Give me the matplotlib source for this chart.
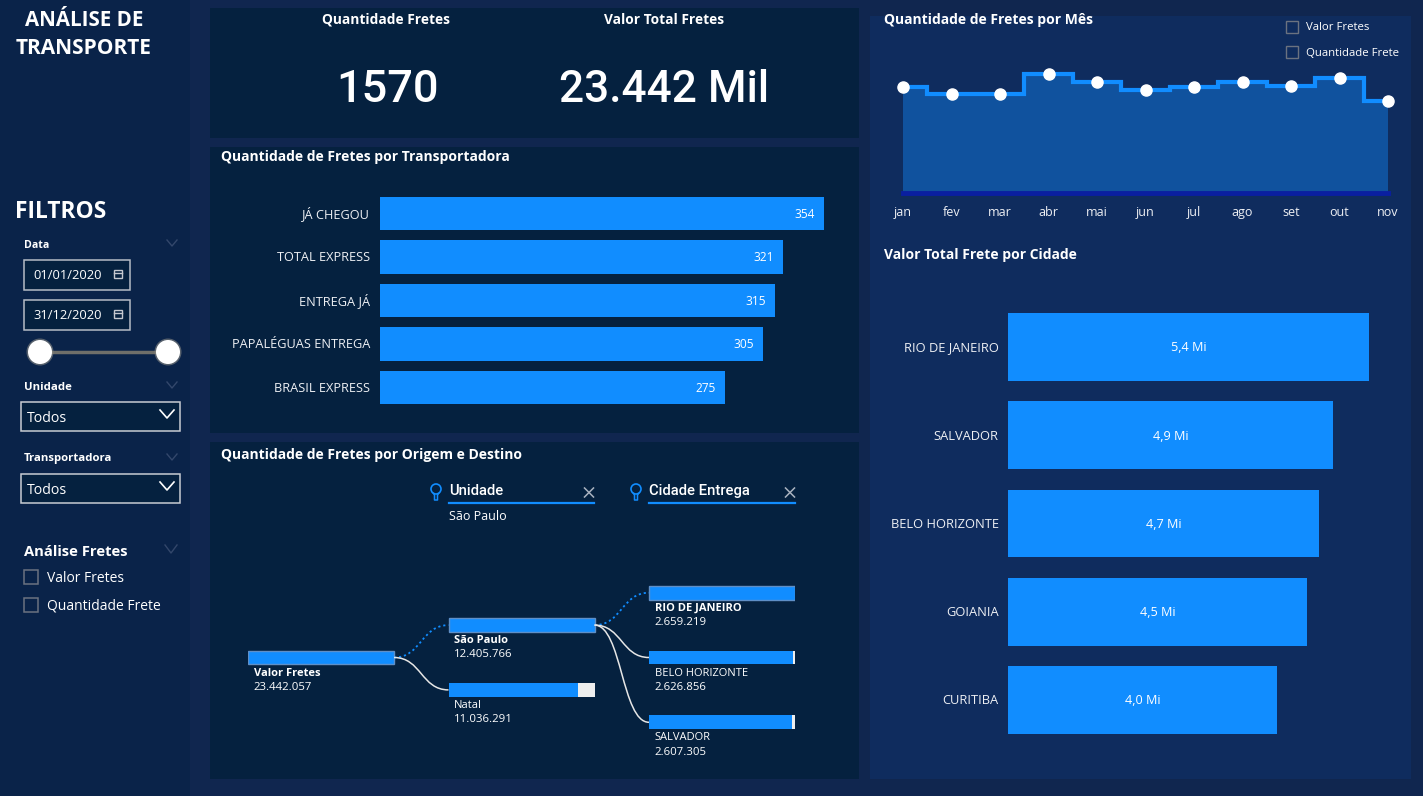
import matplotlib
matplotlib.use('Agg')
import matplotlib.pyplot as plt
from matplotlib.patches import Rectangle, Circle, PathPatch
from matplotlib.path import Path

W, H = 1423, 796

# dados
transportadoras = ['JÁ CHEGOU', 'TOTAL EXPRESS', 'ENTREGA JÁ', 'PAPALÉGUAS ENTREGA', 'BRASIL EXPRESS']
qtd_fretes = [354, 321, 315, 305, 275]

cidades = ['RIO DE JANEIRO', 'SALVADOR', 'BELO HORIZONTE', 'GOIANIA', 'CURITIBA']
valor_cidades = [5.40, 4.86, 4.65, 4.48, 4.03]

meses = ['jan', 'fev', 'mar', 'abr', 'mai', 'jun', 'jul', 'ago', 'set', 'out', 'nov']
qtd_mes = [143, 133, 133, 161, 149, 139, 143, 149, 144, 155, 124]

arvore_nomes = ['Valor Fretes', 'São Paulo', 'Natal', 'RIO DE JANEIRO', 'BELO HORIZONTE', 'SALVADOR']
arvore_valores = [23442057, 12405766, 11036291, 2659219, 2626856, 2607305]
arvore_nivel = [0, 1, 1, 2, 2, 2]
arvore_linha = [0, -1, 1, -2, 0, 2]
arvore_pai = [None, 0, 0, 1, 1, 1]
arvore_destaque = [True, True, False, True, False, False]

BG = '#10264f'
SIDE = '#0a2349'
DARK = '#05213f'
RIGHT = '#0f2c5e'
BLUE = '#118dff'
GRAY = '#6b7280'
BODY = 'Open Sans'
BIG = 'Roboto'

fig = plt.figure(figsize=(W / 100, H / 100), dpi=100, facecolor=BG)


def box_axes(x0, y0, x1, y1):
    # eixos posicionados em pixels da tela
    a = fig.add_axes([x0 / W, 1 - y1 / H, (x1 - x0) / W, (y1 - y0) / H])
    a.patch.set_alpha(0)
    a.set_axis_off()
    return a


ax = box_axes(0, 0, W, H)
ax.set_xlim(0, W)
ax.set_ylim(H, 0)


def txt(x, y, s, size=9, weight='normal', ha='left', color='white', family=BODY):
    ax.text(x, y + 1, s, fontsize=size, fontweight=weight, ha=ha, va='center', color=color, family=family)


def rect(x0, y0, x1, y1, fc, ec='none', lw=0):
    ax.add_patch(Rectangle((x0, y0), x1 - x0, y1 - y0, fc=fc, ec=ec, lw=lw))


def chevron(x, y, w, h, color, lw=1.0):
    ax.plot([x - w, x, x + w], [y - h, y + h, y - h], color=color, lw=lw)


# fundos
rect(0, 0, 190, H, SIDE)
rect(210, 8, 859, 138, DARK)
rect(210, 147, 859, 433, DARK)
rect(210, 442, 859, 779, DARK)
rect(870, 16, 1411, 779, RIGHT)

# barra lateral
txt(84, 19, 'ANÁLISE DE', 14.8, 'bold', 'center')
txt(84, 47, 'TRANSPORTE', 15, 'bold', 'center')
txt(15, 211, 'FILTROS', 16.4, 'bold')

txt(24, 244, 'Data', 7.6, 'bold')
chevron(172, 243, 5, 3, '#33476b')
for y0, data in [(260, '01/01/2020'), (300, '31/12/2020')]:
    rect(24, y0, 130, y0 + 29.5, DARK, '#b6bcc6', 1.1)
    txt(33, y0 + 14.5, data, 9.3)
    rect(114, y0 + 10, 122, y0 + 18, 'none', '#c5c9d0', 1.0)
    ax.plot([114, 122], [y0 + 12.5, y0 + 12.5], color='#c5c9d0', lw=1.0)
ax.plot([40, 168], [352, 352], color='#6f6f6a', lw=2.5, zorder=2)
for cx in [40, 168]:
    ax.add_patch(Circle((cx, 352), 13.5, fc='#8a8a85', ec='none', alpha=0.6, zorder=3))
    ax.add_patch(Circle((cx, 352), 12, fc='white', ec='none', zorder=4))

for y0, nome in [(386, 'Unidade'), (458, 'Transportadora')]:
    txt(24, y0, nome, 8.2, 'bold')
    chevron(172, y0 - 1, 5, 3, '#33476b')
    rect(20.5, y0 + 16, 180, y0 + 44.5, DARK, '#c8ccd3', 1.1)
    txt(27, y0 + 31.5, 'Todos', 10.2)
    chevron(167, y0 + 28, 7, 4, 'white', 1.2)

txt(24, 551, 'Análise Fretes', 10.6, 'bold')
chevron(171, 549, 6, 4, '#33476b')
for y0, nome in [(577, 'Valor Fretes'), (605, 'Quantidade Frete')]:
    rect(24, y0 - 7, 38, y0 + 7, 'none', GRAY, 1.1)
    txt(47, y0, nome, 10)

# cartões
txt(386, 19, 'Quantidade Fretes', 9.95, 'bold', 'center')
txt(664, 19, 'Valor Total Fretes', 9.95, 'bold', 'center')
txt(387, 89, '1570', 32.5, 'medium', 'center', family=BIG)
txt(664, 89, '23.442 Mil', 31.8, 'medium', 'center', family=BIG)

# barras por transportadora
txt(221, 156, 'Quantidade de Fretes por Transportadora', 10, 'bold')
ax1 = box_axes(380, 191.75, 859, 409.25)
ax1.barh(range(len(qtd_fretes)), qtd_fretes, height=0.78, color=BLUE)
ax1.set_xlim(0, 479 / 1.2542)
ax1.set_ylim(len(qtd_fretes) - 0.5, -0.5)
for i, v in enumerate(qtd_fretes):
    # baseline para os acentos não deslocarem o rótulo
    ax1.text(v - 7, i + 0.1, str(v), color='white', fontsize=8.6, ha='right', va='baseline', family=BODY)
    ax1.text(-8, i + 0.1, transportadoras[i], color='#eef0f4', fontsize=9.15, ha='right', va='baseline',
             family=BODY, clip_on=False)

# árvore de decomposição
txt(221, 454, 'Quantidade de Fretes por Origem e Destino', 10, 'bold')
for x0, x1, nome, sub in [(449, 594, 'Unidade', 'São Paulo'), (649, 795, 'Cidade Entrega', None)]:
    txt(x0, 490, nome, 10.6, 'medium', family=BIG)
    ax.plot([x0, x1], [503, 503], color=BLUE, lw=1.6)
    ax.add_patch(Circle((x0 - 13, 489), 5, fc='none', ec=BLUE, lw=1.2))
    ax.plot([x0 - 15.5, x0 - 14.5, x0 - 14.5, x0 - 11.5, x0 - 11.5, x0 - 10.5],
            [493.5, 495, 500, 500, 495, 493.5], color=BLUE, lw=1.1)
    xc = x1 - 5
    ax.plot([xc - 4.5, xc + 4.5], [488, 497], color='#aab2bf', lw=1.1)
    ax.plot([xc - 4.5, xc + 4.5], [497, 488], color='#aab2bf', lw=1.1)
    if sub:
        txt(x0, 516, sub, 9)

ax2 = box_axes(248, 560.5, 248 + 2 * 200.5 + 146, 760.5)
col = 200.5 / 146
ax2.set_xlim(0, 547 / 146)
ax2.set_ylim((760 - 657) / 32.4, -(657 - 560) / 32.4)
for i, nome in enumerate(arvore_nomes):
    x = arvore_nivel[i] * col
    y = arvore_linha[i]
    p = arvore_pai[i]
    if p is None:
        frac = 1.0
    else:
        irmaos = [arvore_valores[j] for j in range(len(arvore_pai)) if arvore_pai[j] == p]
        frac = arvore_valores[i] / max(irmaos)
    ax2.barh(y, 1, left=x, height=0.42, color='#eeeeee', align='center')
    ax2.barh(y, frac, left=x, height=0.42, color=BLUE, align='center')
    if arvore_destaque[i]:
        ax2.barh(y, 1, left=x, height=0.42, color='none', edgecolor='#5f8fc7', lw=1.0, align='center')
    if p is not None:
        xp = arvore_nivel[p] * col + 1
        yp = arvore_linha[p]
        d = (x - xp) / 2
        verts = [(xp, yp), (xp + d, yp), (x - d, y), (x, y)]
        path = Path(verts, [Path.MOVETO, Path.CURVE4, Path.CURVE4, Path.CURVE4])
        if arvore_destaque[i]:
            ax2.add_patch(PathPatch(path, fc='none', ec=BLUE, lw=1.3, ls=(0, (1.2, 1.6))))
        else:
            ax2.add_patch(PathPatch(path, fc='none', ec='#e6e6e6', lw=1.1))
    ax2.text(x + 0.04, y + 0.48, nome, color='white', fontsize=8, va='center', family=BODY,
             fontweight='bold' if arvore_destaque[i] else 'normal', clip_on=False)
    ax2.text(x + 0.04, y + 0.92, f'{arvore_valores[i]:,}'.replace(',', '.'), color='white', fontsize=8.2,
             va='center', family=BODY, clip_on=False)

# quantidade por mês
txt(884, 19, 'Quantidade de Fretes por Mês', 10, 'bold')
for y0, nome in [(27, 'Valor Fretes'), (52, 'Quantidade Frete')]:
    rect(1286, y0 - 6, 1297.5, y0 + 6, 'none', GRAY, 1.0)
    txt(1306, y0, nome, 8.2)
ax3 = box_axes(903, 60, 1388, 193)
x_mes = list(range(len(meses)))
ax3.fill_between(x_mes, qtd_mes, step='mid', color='#10529e', lw=0)
ax3.step(x_mes, qtd_mes, where='mid', color=BLUE, lw=3, solid_joinstyle='miter')
ax3.plot(x_mes, qtd_mes, 'o', color='white', ms=8, clip_on=False, zorder=5)
ax3.plot([0, len(meses) - 1], [0, 0], color='#0a1fa0', lw=3.5, clip_on=False)
ax3.set_xlim(0, len(meses) - 1)
ax3.set_ylim(0, 133 / 0.742)
for i, m in zip(x_mes, meses):
    ax3.text(i, -31, m, color='#eef0f4', fontsize=9, ha='center', va='baseline', family=BODY, clip_on=False)

# valor por cidade
txt(884, 254, 'Valor Total Frete por Cidade', 10, 'bold')
ax4 = box_axes(1008, 302.9, 1411, 744.1)
ax4.barh(range(len(valor_cidades)), valor_cidades, height=0.77, color=BLUE)
ax4.set_xlim(0, 403 / 66.85)
ax4.set_ylim(len(valor_cidades) - 0.5, -0.5)
for i, v in enumerate(valor_cidades):
    ax4.text(v / 2, i + 0.05, f'{v:.1f} Mi'.replace('.', ','), color='white', fontsize=9.1, ha='center',
             va='baseline', family=BODY)
    ax4.text(-0.14, i + 0.05, cidades[i], color='#eef0f4', fontsize=9.3, ha='right', va='baseline', family=BODY,
             clip_on=False)

fig.savefig('out.png', dpi=100, facecolor=fig.get_facecolor())
plt.close(fig)
